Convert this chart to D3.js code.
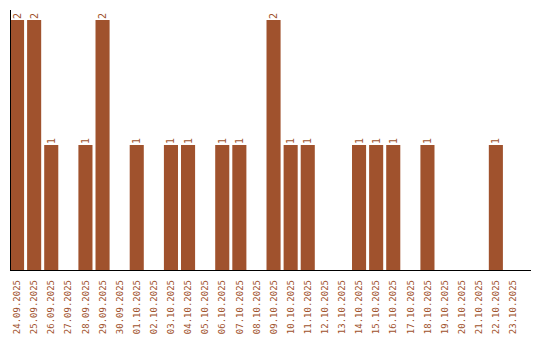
<!DOCTYPE html>
<html><head><meta charset="utf-8">
<script src="https://cdn.jsdelivr.net/npm/d3@7"></script>
<style>body{margin:0;background:#fff}svg{display:block}</style>
</head><body><svg id="c" width="540" height="340"></svg>
<script>
const categories = ["24.09.2025","25.09.2025","26.09.2025","27.09.2025","28.09.2025","29.09.2025","30.09.2025","01.10.2025","02.10.2025","03.10.2025","04.10.2025","05.10.2025","06.10.2025","07.10.2025","08.10.2025","09.10.2025","10.10.2025","11.10.2025","12.10.2025","13.10.2025","14.10.2025","15.10.2025","16.10.2025","17.10.2025","18.10.2025","19.10.2025","20.10.2025","21.10.2025","22.10.2025","23.10.2025"];
const values = [2,2,1,0,1,2,0,1,0,1,1,0,1,1,0,2,1,1,0,0,1,1,1,0,1,0,0,0,1,0];

(function(){
const svg = d3.select("#c");
const mLeft = 10, mBottom = 270, mTop = 20;
const color = "#a0522d";
const data = categories.map((c,i)=>({c, v: values[i]}));

const bx = d3.scaleBand().domain(categories).range([mLeft, mLeft + 17*categories.length]).paddingInner(3/17).paddingOuter(0);
const y = d3.scaleLinear().domain([0, 2]).range([mBottom, mTop]);

svg.selectAll("rect.bar").data(data).join("rect")
  .attr("x", d=>bx(d.c))
  .attr("y", d=>y(d.v))
  .attr("width", bx.bandwidth())
  .attr("height", d=>mBottom - y(d.v))
  .attr("fill", color);

svg.append("line").attr("x1", mLeft+0.5).attr("x2", mLeft+0.5).attr("y1", 10).attr("y2", mBottom).attr("stroke","#000");
svg.append("line").attr("x1", mLeft).attr("x2", 531).attr("y1", mBottom+0.5).attr("y2", mBottom+0.5).attr("stroke","#000");

svg.selectAll("text.val").data(data.filter(d=>d.v>0)).join("text")
  .attr("transform", d=>`translate(${bx(d.c)+bx.bandwidth()/2},${y(d.v)-1}) rotate(-90)`)
  .attr("dy","0.35em")
  .attr("font-family","DejaVu Sans Mono, monospace")
  .attr("font-size","10px")
  .attr("fill", color)
  .text(d=>d.v);

svg.selectAll("text.cat").data(categories).join("text")
  .attr("transform", d=>`translate(${bx(d)+bx.bandwidth()/2},${mBottom+10}) rotate(-90)`)
  .attr("text-anchor","end")
  .attr("dy","0.35em")
  .attr("font-family","DejaVu Sans Mono, monospace")
  .attr("font-size","9px")
  .attr("fill", color)
  .text(d=>d);
})();
</script></body></html>
